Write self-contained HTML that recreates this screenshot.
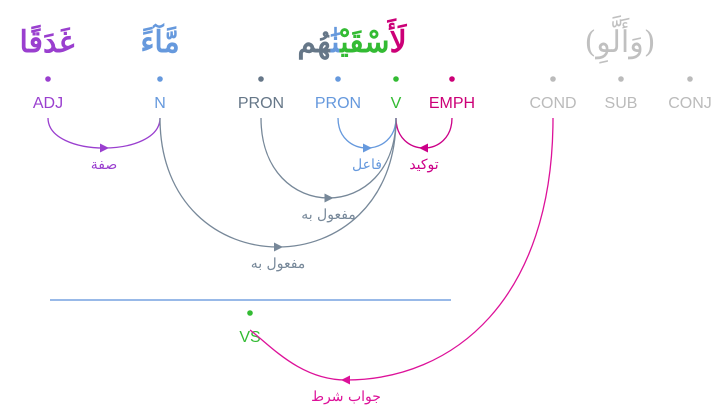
<!DOCTYPE html>
<html><head><meta charset="utf-8"><style>
html,body{margin:0;padding:0;background:#fff;width:713px;height:410px;overflow:hidden}
svg{display:block}
.t{font-family:"Liberation Sans",sans-serif;font-size:16px}
.ar{font-family:"DejaVu Serif","Noto Serif CJK SC",serif}
</style></head><body>
<svg id="g" width="713" height="410">
<g font-size="30" font-weight="bold" text-anchor="middle">
<text class="ar" x="47" y="52" fill="#9a3fcf">غَدَقًا</text>
<text class="ar" x="160" y="52" fill="#6699dd">مَّآءً</text>
<text class="ar" x="352" y="52" direction="rtl"><tspan fill="#cc0077">لَ</tspan><tspan fill="#33bb33">أَسْقَيْ</tspan><tspan fill="#6699dd">نَٰ</tspan><tspan fill="#667788">هُم</tspan></text>
<text class="ar" x="620" y="52" fill="#c0c0c0" font-weight="normal">(وَأَلَّوِ)</text>
</g>
<g id="nodes"></g>
<g id="arcs"></g>
<line x1="50" y1="300" x2="451" y2="300" stroke="#5b8fd9" stroke-width="1.3"/>
</svg>
<script>
const tags=["ADJ","N","PRON","PRON","V","EMPH","COND","SUB","CONJ","VS"];
const xs=[48,160,261,338,396,452,553,621,690,250];
const ys=[79,79,79,79,79,79,79,79,79,313];
const cols=["#9a3fcf","#6699dd","#667788","#6699dd","#33bb33","#cc0077","#bbbbbb","#bbbbbb","#bbbbbb","#33bb33"];
const edges=[[0,1,"صفة"],[3,4,"فاعل"],[5,4,"توكيد"],[2,4,"مفعول به"],[1,4,"مفعول به"],[6,9,"جواب شرط"]];
const edgeCols=["#9a3fcf","#6699dd","#cc0088","#778899","#778899","#dd1199"];
const NS="http://www.w3.org/2000/svg";
const ng=document.getElementById('nodes'),ag=document.getElementById('arcs');
tags.forEach((t,i)=>{
 const c=document.createElementNS(NS,'circle');
 c.setAttribute('cx',xs[i]);c.setAttribute('cy',ys[i]);c.setAttribute('r',2.8);c.setAttribute('fill',cols[i]);
 
 
 ng.appendChild(c);
 const tx=document.createElementNS(NS,'text');
 tx.setAttribute('x',xs[i]);tx.setAttribute('y',ys[i]+29);tx.setAttribute('text-anchor','middle');
 tx.setAttribute('class','t');tx.setAttribute('fill',cols[i]);tx.textContent=t;
 
 
 ng.appendChild(tx);
});
edges.forEach(([a,b,l],k)=>{
 const x1=xs[a],x2=xs[b],y1=ys[a]+39,y2=ys[b]+(b===9?17:39);
 let d,mx,by;
 const col=edgeCols[k];
 if(y1===y2){
  const w=Math.abs(x1-x2);
  const h=w<120?30:(w<150?80:129);
  const c=y1+h/0.75;
  d=`M${x1} ${y1} C${x1} ${c} ${x2} ${c} ${x2} ${y2}`;
  mx=(x1+x2)/2;by=y1+h;
 }else{
  mx=346;by=380;
  d=`M${x1} ${y1} C${x1} 300 ${x1-100} ${by} ${mx} ${by} C${mx-46} ${by} ${x2+20} ${y2+15} ${x2} ${y2}`;
 }
 const p=document.createElementNS(NS,'path');
 p.setAttribute('d',d);p.setAttribute('fill','none');p.setAttribute('stroke',col);p.setAttribute('stroke-width','1.3');
 
 
 ag.appendChild(p);
 const ar=document.createElementNS(NS,'path');
 const dir=x2>x1?1:-1;
 ar.setAttribute('d',`M${mx-4*dir} ${by-4.5}L${mx+5*dir} ${by}L${mx-4*dir} ${by+4.5}z`);
 ar.setAttribute('fill',col);
 
 
 ag.appendChild(ar);
 const lt=document.createElementNS(NS,'text');
 lt.setAttribute('x',mx);lt.setAttribute('y',by+21);lt.setAttribute('text-anchor','middle');
 lt.setAttribute('class','ar');lt.setAttribute('font-size','14');
 lt.setAttribute('fill',col);lt.textContent=l;
 
 
 ag.appendChild(lt);
});
</script>
</body></html>
